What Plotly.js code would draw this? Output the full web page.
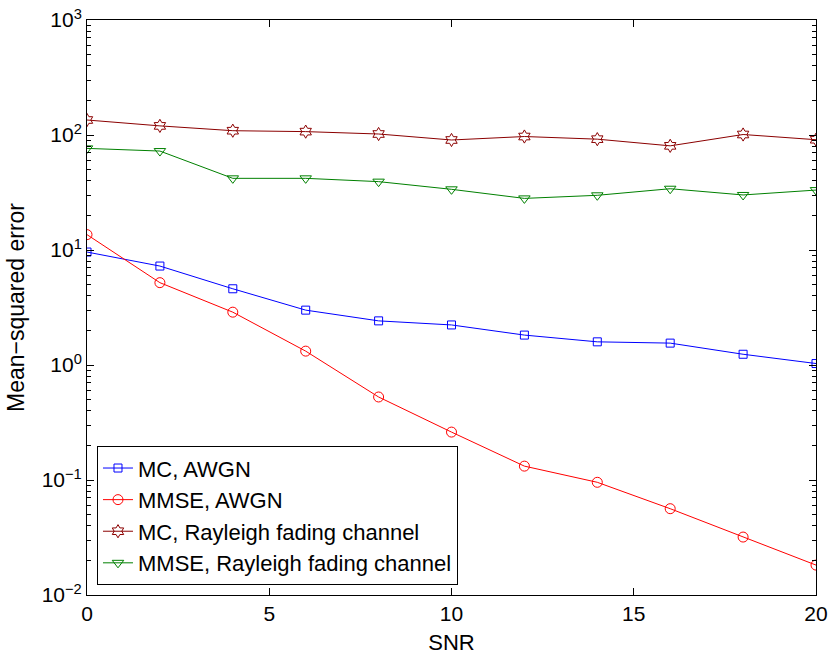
<!DOCTYPE html>
<html>
<head>
<meta charset="utf-8">
<script src="https://cdn.plot.ly/plotly-3.0.1.min.js"></script>
<style>html,body{margin:0;padding:0;background:#fff;}#chart{width:828px;height:661px;}</style>
</head>
<body>
<div id="chart"></div>
<script>
const snr = [0, 2, 4, 6, 8, 10, 12, 14, 16, 18, 20];
const mcAwgn = [9.6, 7.25, 4.6, 3.0, 2.42, 2.23, 1.82, 1.59, 1.55, 1.24, 1.03];
const mmseAwgn = [13.6, 5.2, 2.88, 1.32, 0.527, 0.261, 0.132, 0.0955, 0.0563, 0.0319, 0.0182];
const mcRayleigh = [135, 120, 109, 107, 102, 90.5, 97, 92, 80.5, 101, 91];
const mmseRayleigh = [76.5, 72.5, 42, 42, 39.3, 33.7, 28.1, 29.9, 34.1, 30.1, 33.2];
const seriesNames = ["MC, AWGN", "MMSE, AWGN", "MC, Rayleigh fading channel", "MMSE, Rayleigh fading channel"];
const xTicks = [0, 5, 10, 15, 20];
const yTickVals = [0.01, 0.1, 1, 10, 100, 1000];
const yTickText = ["10<sup>−2</sup>", "10<sup>−1</sup>", "10<sup>0</sup>", "10<sup>1</sup>", "10<sup>2</sup>", "10<sup>3</sup>"];

const FONT = "Liberation Sans, Arial, Helvetica, sans-serif";

function tr(y, name, color, symbol, size) {
  return {
    x: snr, y: y, name: name, type: "scatter", mode: "lines+markers",
    line: {color: color, width: 1},
    marker: {symbol: symbol, size: size, color: color, line: {color: color, width: 1}}
  };
}
const data = [
  tr(mcAwgn, seriesNames[0], "#0000ff", "square-open", 8),
  tr(mmseAwgn, seriesNames[1], "#ff0000", "circle-open", 10),
  tr(mcRayleigh, seriesNames[2], "#8b0000", "hexagram-open", 10),
  tr(mmseRayleigh, seriesNames[3], "#008000", "triangle-down-open", 10)
];

const layout = {
  width: 828, height: 661,
  margin: {l: 87, r: 12, t: 20, b: 66, pad: 0},
  paper_bgcolor: "#fff", plot_bgcolor: "#fff",
  font: {family: FONT, size: 21, color: "#000"},
  showlegend: true,
  legend: {
    x: 0.0137, y: 0.017, xanchor: "left", yanchor: "bottom",
    bgcolor: "#fff", bordercolor: "#000", borderwidth: 1,
    font: {family: FONT, size: 22, color: "#000"},
    tracegroupgap: 0, itemwidth: 30, entrywidth: 392, entrywidthmode: "pixels"
  },
  xaxis: {
    range: [0, 20], tickvals: xTicks, ticks: "inside", ticklen: 7, tickcolor: "#000",
    showline: true, linecolor: "#000", linewidth: 1, mirror: "allticks",
    showgrid: false, zeroline: false,
    title: {text: "SNR", font: {family: FONT, size: 22}, standoff: 10},
    tickfont: {family: FONT, size: 21}
  },
  yaxis: {
    type: "log", range: [-2, 3], tickvals: yTickVals, ticktext: yTickText,
    ticks: "inside", ticklen: 7, tickcolor: "#000",
    minor: {ticks: "inside", ticklen: 4, tickcolor: "#000", dtick: "D1", showgrid: false},
    showline: true, linecolor: "#000", linewidth: 1, mirror: "allticks",
    showgrid: false, zeroline: false,
    title: {text: "Mean−squared error", font: {family: FONT, size: 23}, standoff: 10},
    tickfont: {family: FONT, size: 21}
  }
};

Plotly.newPlot("chart", data, layout, {displayModeBar: false, staticPlot: true});
</script>
</body>
</html>
